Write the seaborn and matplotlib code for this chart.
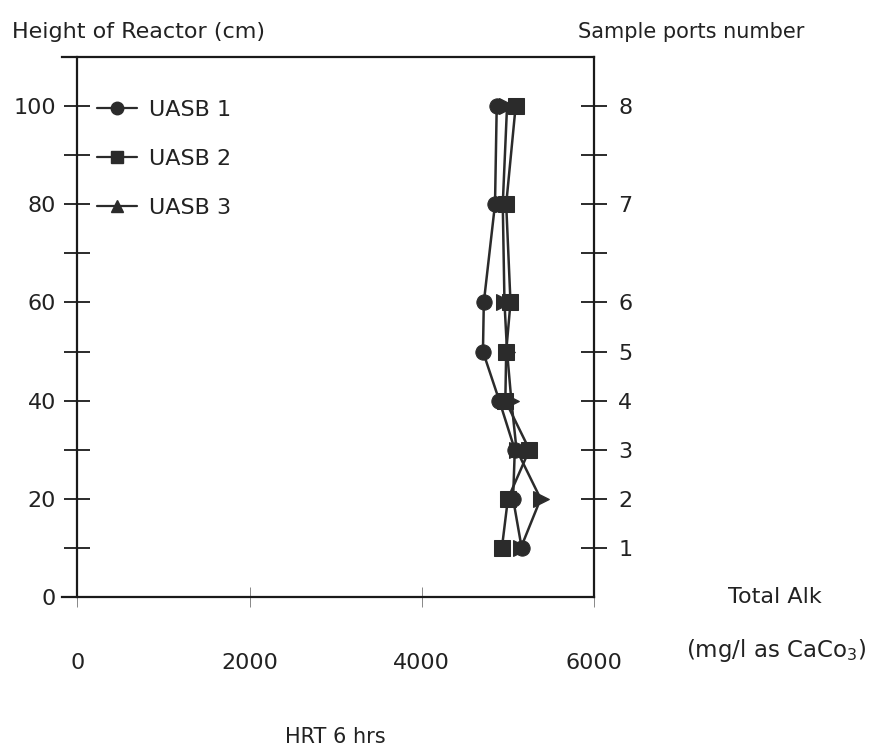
import numpy as np
import pandas as pd
import matplotlib
matplotlib.use("Agg")
import matplotlib.pyplot as plt
from matplotlib.lines import Line2D
import seaborn as sns

heights = [10, 20, 30, 40, 50, 60, 80, 100]
uasb1 = [5160, 5060, 5080, 4900, 4710, 4720, 4850, 4870]
uasb2 = [4930, 5000, 5250, 4970, 4980, 5030, 4980, 5090]
uasb3 = [5150, 5380, 5100, 5040, 4990, 4960, 4940, 4990]
series_names = ["UASB 1", "UASB 2", "UASB 3"]
x_ticks = [0, 2000, 4000, 6000]
y_ticks_labeled = [0, 20, 40, 60, 80, 100]
port_heights = [10, 20, 30, 40, 50, 60, 80, 100]
port_labels = ["1", "2", "3", "4", "5", "6", "7", "8"]

sns.set_style("ticks")
plt.rcParams["font.family"] = ["DejaVu Sans"]

rows = []
for name, vals in zip(series_names, [uasb1, uasb2, uasb3]):
    for h, v in zip(heights, vals):
        rows.append({"alk": v, "height": h, "reactor": name})
df = pd.DataFrame(rows)

W, H = 870, 753
fig = plt.figure(figsize=(W / 100, H / 100), dpi=100)
ax = fig.add_axes([62 / W, 1 - 597 / H, (594 - 62) / W, (597 - 57) / H])

ink = "#2b2b2b"
txt = "#222222"
marker_map = {"UASB 1": "o", "UASB 2": "s", "UASB 3": ">"}
sns.lineplot(data=df, x="alk", y="height", hue="reactor", style="reactor",
             hue_order=series_names[::-1], style_order=series_names[::-1],
             markers=marker_map, dashes=False,
             palette={n: ink for n in series_names},
             sort=False, estimator=None, markersize=11, linewidth=1.8,
             markeredgecolor=ink, legend=False, ax=ax)

ax.set_xlim(-180, 6000)
ax.set_ylim(0, 110)
ax.spines["left"].set_position(("data", 0))
for s in ["top", "right", "bottom", "left"]:
    ax.spines[s].set_visible(True)
    ax.spines[s].set_color("#1a1a1a")
    ax.spines[s].set_linewidth(1.6)

ax.set_xlabel("")
ax.set_ylabel("")

# x ticks
ax.set_xticks(x_ticks)
ax.set_xticklabels([str(t) for t in x_ticks])
ax.tick_params(axis="x", direction="inout", length=14, width=0.7, color="#888888",
               pad=33, labelsize=16, labelcolor=txt)

# left y ticks
ax.set_yticks(np.arange(0, 101, 10))
ax.set_yticklabels([str(t) if t in y_ticks_labeled else "" for t in np.arange(0, 101, 10)])
ax.tick_params(axis="y", direction="inout", length=19, width=1.3, color="#1a1a1a",
               pad=6, labelsize=16, labelcolor=txt)

# right axis: sample ports
ax2 = ax.twinx()
ax2.set_ylim(ax.get_ylim())
ax2.set_yticks(np.arange(10, 101, 10))
ax2.set_yticklabels([port_labels[port_heights.index(t)] if t in port_heights else ""
                     for t in np.arange(10, 101, 10)])
ax2.tick_params(axis="y", direction="inout", length=19, width=1.3, color="#1a1a1a",
                pad=8, labelsize=16, labelcolor=txt)
for s in ax2.spines.values():
    s.set_visible(False)

# legend
handles = [
    Line2D([], [], color=ink, marker="o", markersize=9, linewidth=1.6),
    Line2D([], [], color=ink, marker="s", markersize=9, linewidth=1.6),
    Line2D([], [], color=ink, marker="^", markersize=9, linewidth=1.6),
]
ax.legend(handles, series_names, loc="upper left", bbox_to_anchor=(0.05, 0.937),
          frameon=False, fontsize=16, handlelength=1.8, handletextpad=0.5,
          labelspacing=1.3, borderaxespad=0, labelcolor=txt)

fig.text(12 / W, 1 - 32 / H, "Height of Reactor (cm)", ha="left", va="center",
         fontsize=16, color=txt)
fig.text(578 / W, 1 - 32 / H, "Sample ports number", ha="left", va="center",
         fontsize=15, color=txt)
fig.text(775 / W, 1 - 597 / H, "Total Alk", ha="center", va="center",
         fontsize=16, color=txt)
fig.text(776 / W, 1 - 651 / H, "(mg/l as CaCo$_3$)", ha="center", va="center",
         fontsize=16.5, color=txt)
fig.text(335 / W, 1 - 737 / H, "HRT 6 hrs", ha="center", va="center",
         fontsize=15, color=txt)

fig.savefig("out.png", dpi=100, facecolor="white")
